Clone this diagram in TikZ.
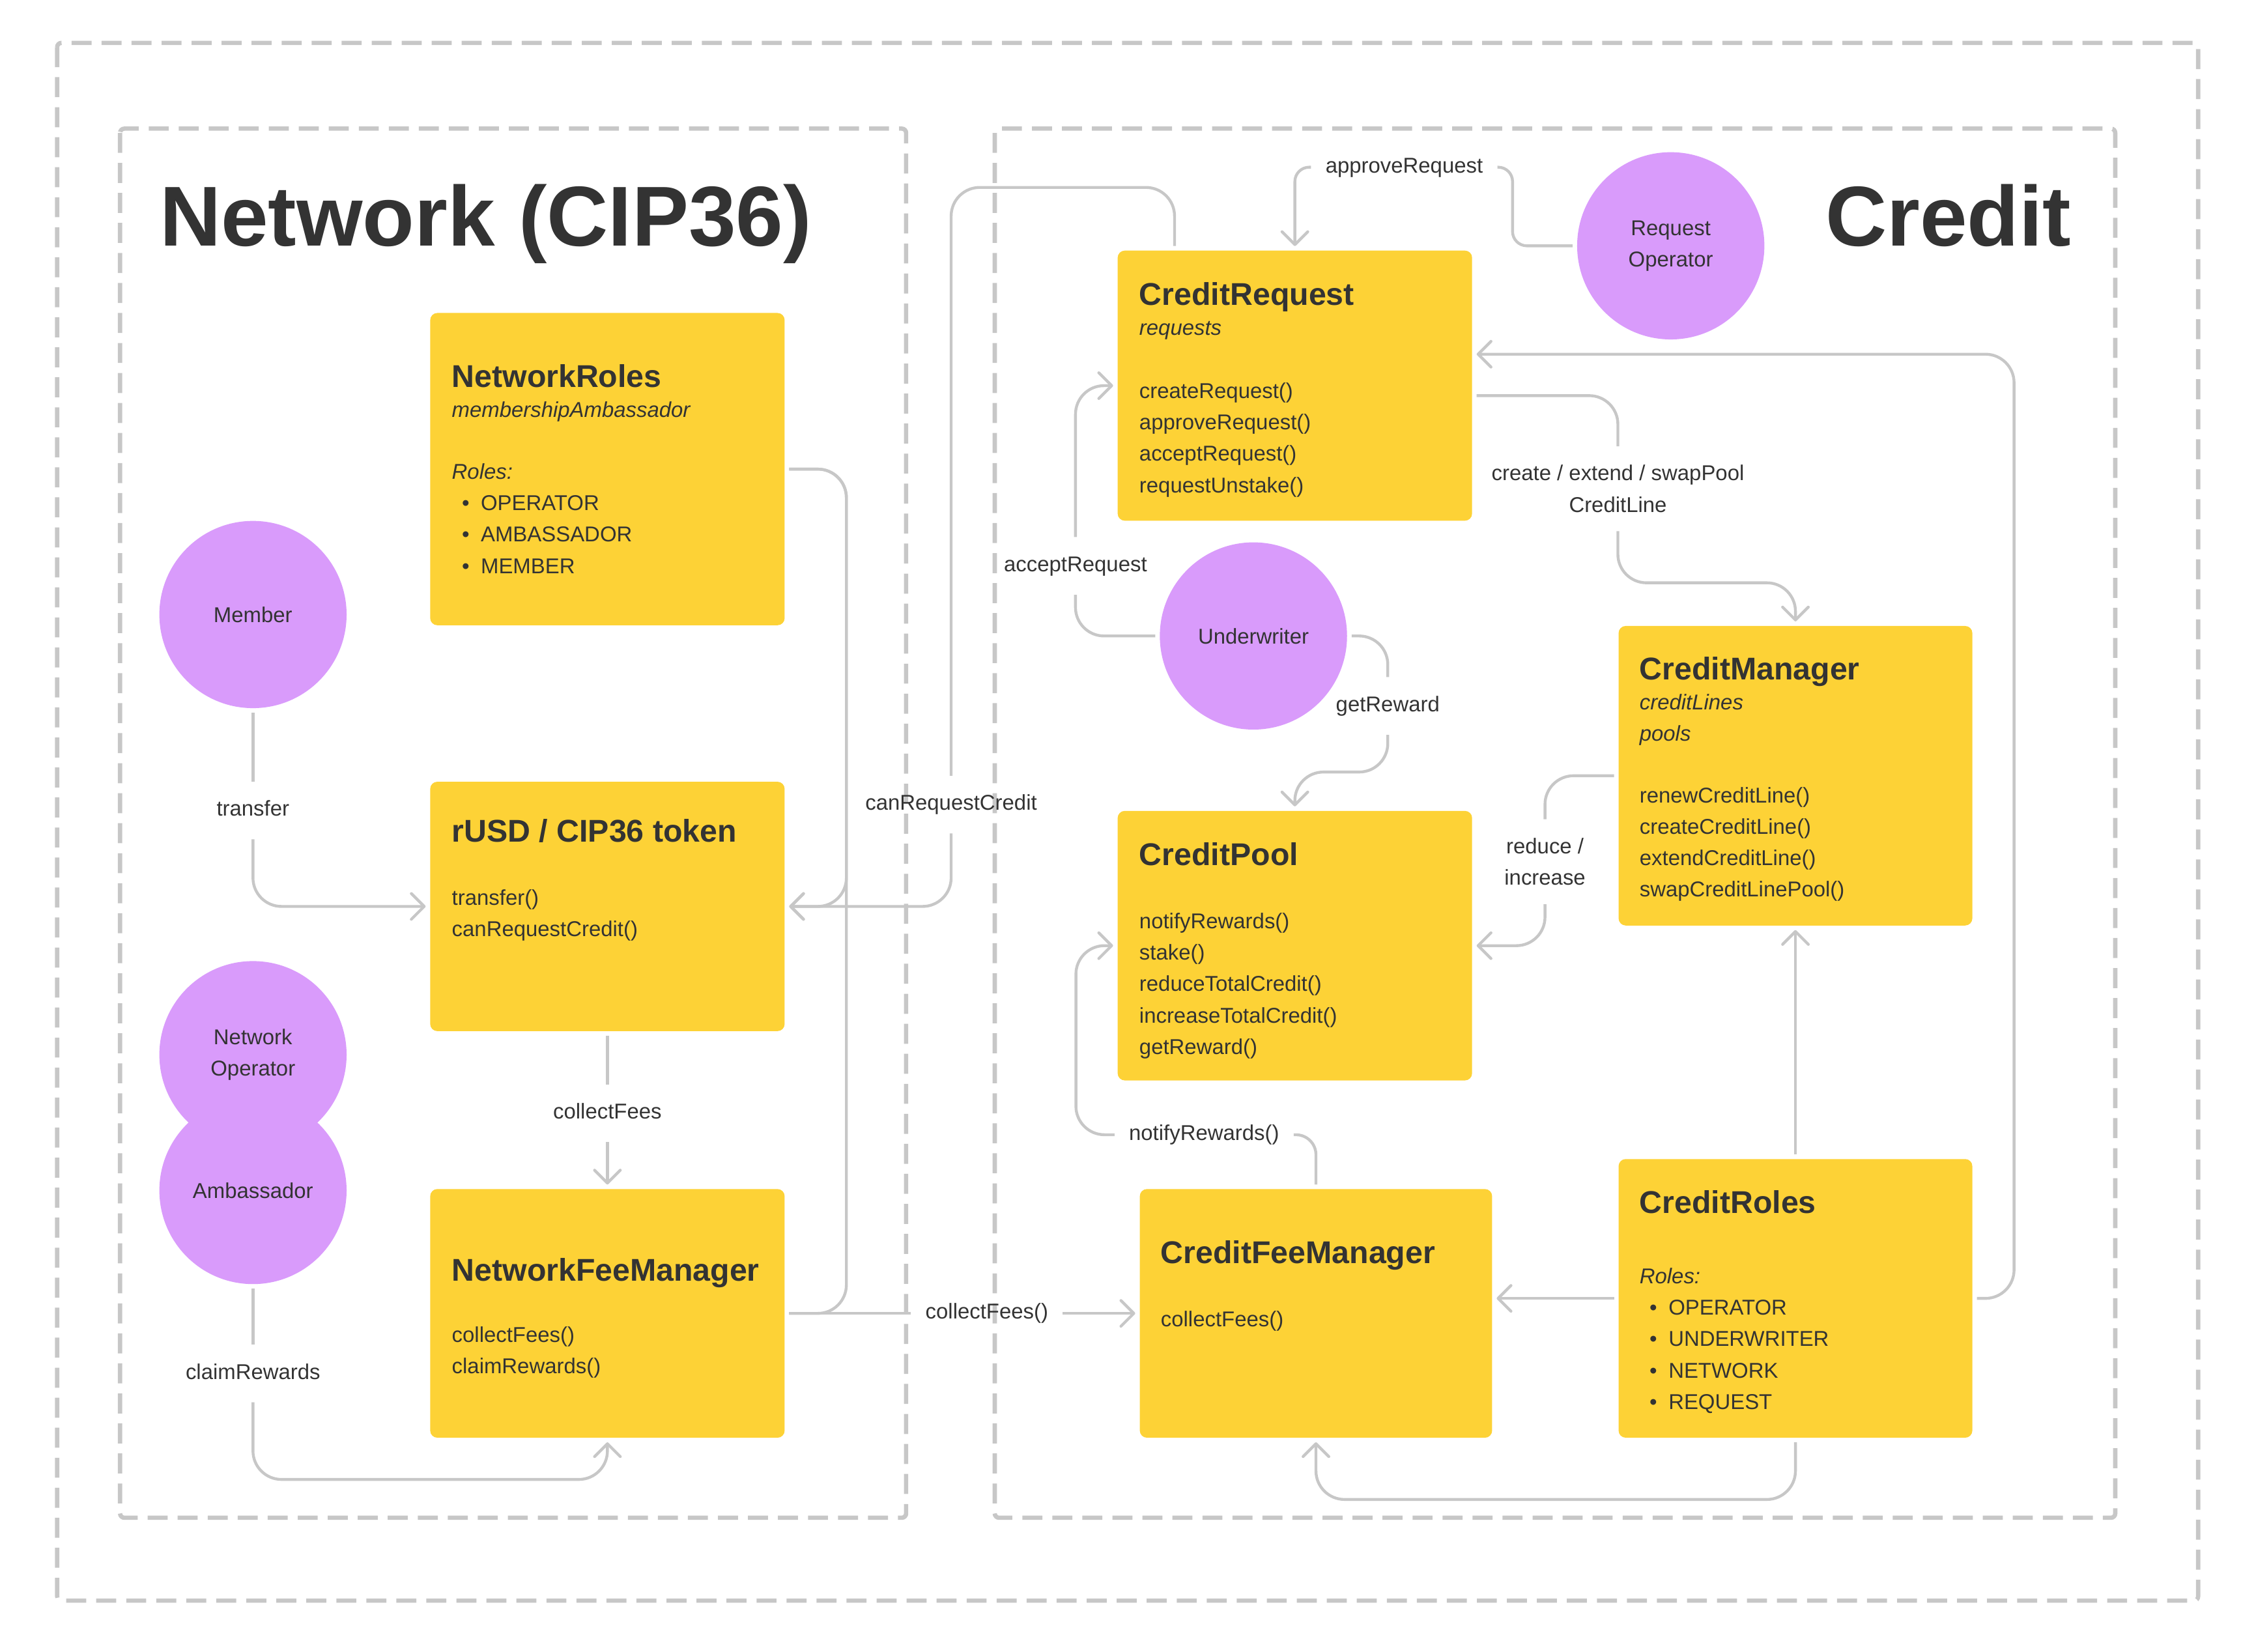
\documentclass[tikz,border=0pt]{standalone}
\usepackage{fontspec}
\setmainfont{Liberation Sans}
\usepackage{tikz}
\usetikzlibrary{positioning}
\usetikzlibrary{arrows.meta}
\usetikzlibrary{calc}
\definecolor{boxyellow}{HTML}{FDD236}
\definecolor{actorpurple}{HTML}{D99BFB}
\definecolor{ink}{HTML}{333333}
\definecolor{wiregray}{HTML}{C7C7C7}
\newcommand{\txtsize}{\fontsize{15}{22}\selectfont}
\newcommand{\headfont}{\bfseries\fontsize{22}{22}\selectfont}
\newcommand{\bigfont}{\bfseries\fontsize{59.5}{64}\selectfont}
\newcommand{\itm}[1]{\hspace*{7pt}\textbullet\hspace{8pt}#1}

\tikzset{
  frame/.style={draw=wiregray, line width=3pt, dash pattern=on 14pt off 7pt, rounded corners=3pt},
  conn/.style={draw=wiregray, line width=2pt, rounded corners=20pt, shorten <=3pt, shorten >=3pt},
  arr/.style={-{Straight Barb[length=9pt,width=18pt,round]}},
  ybox/.style={fill=boxyellow, rounded corners=5pt, inner sep=0pt},
  btext/.style={anchor=north west, align=left, inner sep=0pt, font=\txtsize, text=ink},
  actor/.style={circle, fill=actorpurple, minimum size=131pt, inner sep=0pt, align=center, font=\txtsize, text=ink},
  lbl/.style={font=\txtsize, text=ink, inner xsep=7pt, inner ysep=10pt, text height=11pt, text depth=3pt},
  lbltwo/.style={font=\txtsize, text=ink, inner xsep=7pt, inner ysep=10pt, align=center},
  bigtitle/.style={anchor=base west, font=\bigfont, text=ink, inner sep=0pt}
}

\begin{document}
\begin{tikzpicture}[x=1pt,y=-1pt]
\useasboundingbox (0,0) rectangle (1568,1155.5);

% frames
\draw[frame] (40,30) rectangle (1538,1120);
\draw[frame] (84,90) rectangle (634,1062);
\draw[frame] (696,90) rectangle (1480,1062);

\node[bigtitle] (nettitle) at (111.5,172) {Network (CIP36)};
\node[bigtitle] (credtitle) at (1277,172) {Credit};

% contracts
\node[ybox, minimum width=248pt, minimum height=218.5pt] (nroles) at (425,328.25) {};
\node[ybox, minimum width=248pt, minimum height=174.5pt] (rusd) at (425,634.25) {};
\node[ybox, minimum width=248pt, minimum height=174pt] (nfee) at (425,919) {};
\node[ybox, minimum width=248pt, minimum height=189pt] (creq) at (906,269.85) {};
\node[ybox, minimum width=248pt, minimum height=188.6pt] (cpool) at (906,661.7) {};
\node[ybox, minimum width=247.5pt, minimum height=209.6pt] (cman) at (1256.25,542.8) {};
\node[ybox, minimum width=246.5pt, minimum height=174pt] (cfee) at (920.75,919) {};
\node[ybox, minimum width=247.5pt, minimum height=195pt] (croles) at (1256.25,908.5) {};

\node[btext] (nrolestxt) at (316,255) {{\headfont NetworkRoles}\\[-1pt]
  \textit{membershipAmbassador}\\[21pt]
  \textit{Roles:}\\ \itm{OPERATOR}\\ \itm{AMBASSADOR}\\ \itm{MEMBER}};
\node[btext] (rusdtxt) at (316,573) {{\headfont rUSD / CIP36 token}\\[22pt]
  transfer()\\ canRequestCredit()};
\node[btext] (nfeetxt) at (316,880) {{\headfont NetworkFeeManager}\\[21pt]
  collectFees()\\ claimRewards()};
\node[btext] (creqtxt) at (797,197.5) {{\headfont CreditRequest}\\[-1pt]
  \textit{requests}\\[22pt]
  createRequest()\\ approveRequest()\\ acceptRequest()\\ requestUnstake()};
\node[btext] (cpooltxt) at (797,589.5) {{\headfont CreditPool}\\[22pt]
  notifyRewards()\\ stake()\\ reduceTotalCredit()\\ increaseTotalCredit()\\ getReward()};
\node[btext] (cmantxt) at (1147,459.5) {{\headfont CreditManager}\\[-1pt]
  \textit{creditLines}\\ \textit{pools}\\[21pt]
  renewCreditLine()\\ createCreditLine()\\ extendCreditLine()\\ swapCreditLinePool()};
\node[btext] (cfeetxt) at (812,868) {{\headfont CreditFeeManager}\\[22pt]
  collectFees()};
\node[btext] (crolestxt) at (1147,833) {{\headfont CreditRoles}\\[27pt]
  \textit{Roles:}\\ \itm{OPERATOR}\\ \itm{UNDERWRITER}\\ \itm{NETWORK}\\ \itm{REQUEST}};

% actors
\node[actor] (member) at (177,430) {Member};
\node[actor] (netop) at (177,738) {Network\\Operator};
\node[actor] (amb) at (177,833) {Ambassador};
\node[actor] (reqop) at (1169,172) {Request\\Operator};
\node[actor] (uw) at (877,445) {Underwriter};

% connector labels
\node[lbl] (ltransfer) at (177,567) {transfer};
\node[lbl] (lcanreq) at (665.5,563) {canRequestCredit};
\node[lbl] (lapprove) at (982.5,117) {approveRequest};
\node[lbl] (lacc) at (752.5,396) {acceptRequest};
\node[lbl] (lget) at (971,494) {getReward};
\node[lbltwo] (lcreate) at (1132,342) {create / extend / swapPool\\CreditLine};
\node[lbltwo] (lreduce) at (1081,603) {reduce /\\increase};
\node[lbl] (lnotify) at (842.5,794) {notifyRewards()};
\node[lbl] (lcollect) at (425,779) {collectFees};
\node[lbl] (lclaim) at (177,961) {claimRewards};
\node[lbl] (lcollectfees) at (690.5,919) {collectFees()};

% connectors
\draw[conn] (member) -- (ltransfer);
\draw[conn, arr] (ltransfer) |- (rusd);
\draw[conn, arr] (nroles.east) -- ++(43,0) |- (rusd);
\draw[conn] (nfee.east) -- ++(43,0) |- (nroles.east);
\draw[conn] ($(creq.north west)+(40,0)$) -- ++(0,-44) -| (lcanreq);
\draw[conn, arr] (lcanreq) |- (rusd);
\draw[conn, rounded corners=10pt] (reqop.west) -- ++(-45,0) |- (lapprove);
\draw[conn, arr, rounded corners=10pt] (lapprove) -| (creq);
\draw[conn] (uw) -| (lacc);
\draw[conn, arr] (lacc) |- (creq);
\draw[conn] (uw) -| (lget);
\draw[conn, arr] (lget) |- ($(cpool.north)+(0,-27)$) -- (cpool);
\draw[conn] ($(creq.east)+(0,7)$) -| (lcreate);
\draw[conn, arr] (lcreate) |- ($(cman.north)+(0,-30)$) -- (cman);
\draw[conn, arr] (croles.east) -- ++(29,0) |- ($(creq.east)+(0,-22)$);
\draw[conn] (cman) -| (lreduce);
\draw[conn, arr] (lreduce) |- (cpool);
\draw[conn, arr] (croles) -- (cman);
\draw[conn, arr] (croles.west) -- (croles.west -| cfee.east);
\draw[conn, arr] (croles.south) -- ++(0,43) -| (cfee);
\draw[conn, rounded corners=14pt] (cfee) |- (lnotify);
\draw[conn, arr] (lnotify) -| ($(cpool.west)+(-29,0)$) -- (cpool);
\draw[conn] (rusd) -- (lcollect);
\draw[conn, arr] (lcollect) -- (nfee);
\draw[conn] (amb) -- (lclaim);
\draw[conn, arr] (lclaim) |- ($(nfee.south)+(0,29)$) -- (nfee);
\draw[conn] (nfee) -- (lcollectfees);
\draw[conn, arr] (lcollectfees) -- (cfee);
\end{tikzpicture}
\end{document}
